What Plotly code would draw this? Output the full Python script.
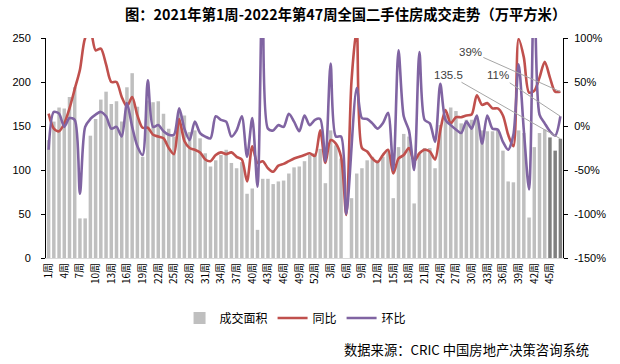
import plotly.graph_objects as go

# 成交面积（万平方米）: 2021 week 1-52, 2022 week 1-47
area = [134, 155, 171, 170, 183, 194, 45, 45, 139, 158,
        180, 189, 175, 178, 155, 194, 210, 172, 115, 179,
        177, 178, 164, 147, 138, 165, 162, 143, 145, 136,
        119, 104, 111, 117, 123, 108, 102, 109, 73, 79,
        32, 90, 90, 84, 87, 88, 96, 103, 104, 110,
        117, 119,
        124, 85, 145, 128, 113, 0, 68, 96, 102, 111,
        115, 111, 115, 123, 68, 126, 141, 138, 62, 119,
        125, 125, 102, 151, 162, 171, 167, 153, 157, 157,
        161, 145, 144, 144, 146, 122, 87, 86, 145, 142,
        46, 126, 142, 146, 137, 122, 135.5]

# 同比 (%)
yoy = [14, -3, -6, 3, 20, 42, 64, 100, 108, 86,
       88, 70, 50, 50, 33, 22, 33, 12, -2, -2,
       -10, -12, -14, -25, -32, 8, -17, -25, -27, -30,
       -38, -40, -33, -30, -32, -30, -35, -38, -63, -23,
       -42, -40, -48, -52, -45, -43, -40, -37, -35, -33,
       -31, -34,
       -5, -42, -16, -20, -35, -101, 51, 110, -25, -29,
       -37, -41, -33, -27, -54, -37, -33, -25, -40, -31,
       -27, -29, -38, -5, 18, 3, 10, 10, 12, 13,
       35, 24, 26, 20, 20, 12, -10, -23, 99, 78,
       38, 40, 55, 73, 55, 39, 39]

# 环比 (%)
mom = [-27, 16, 14, -1, 9, 7, -77, -1, 8, 13,
       16, 11, -3, -1, -12, 26, -1, -23, -33, 52,
       -1, 1, -6, -10, -10, 20, -3, -16, 5, -8,
       -12, -14, 11, 7, 5, -12, -5, 11, -35, 9,
       -69, 181, -3, -5, 1, -1, 14, 5, -6, 12,
       1, 7,
       8, -40, 71, -12, -12, -100, None, 43, 9, 8,
       3, -3, 3, 15, -50, 86, 11, -5, -50, 84,
       7, 3, -18, 48, 7, 1, -4, -8, 5, -3,
       12, -20, 12, -3, -4, -18, -27, -10, 70, -5,
       -72, 174, 13, 3, -6, -11, 11]

weeks_2021 = list(range(1, 53))
weeks_2022 = list(range(1, 48))
week_labels = [f"{w}周" for w in weeks_2021 + weeks_2022]

left_ticks = [0, 50, 100, 150, 200, 250]
right_ticks = [-150, -100, -50, 0, 50, 100]
right_ticktext = [f"{v}%" for v in right_ticks]

x = list(range(len(area)))
n_dark = 3
bar_colors = ["#BFBFBF"] * (len(area) - n_dark) + ["#808080"] * n_dark

FONT = "Liberation Sans, Noto Sans CJK SC"
CJK = "Noto Sans CJK SC"

fig = go.Figure()
fig.add_trace(go.Bar(x=x, y=area, name="成交面积", marker=dict(color=bar_colors, line=dict(width=0)),
                     yaxis="y"))
fig.add_trace(go.Scatter(x=x, y=yoy, name="同比", mode="lines", yaxis="y2",
                         line=dict(color="#C0504D", width=2.6, shape="spline", smoothing=0.8)))
fig.add_trace(go.Scatter(x=x, y=mom, name="环比", mode="lines", yaxis="y2", connectgaps=True,
                         line=dict(color="#8064A2", width=2.6, shape="spline", smoothing=0.8)))

L, R, T, B = 43, 57, 38, 106
W, H = 620, 364
pw, ph = W - L - R, H - T - B

def px_to_paper(px, py):
    return (px - L) / pw, (H - B - py) / ph

annos = []
tx, ty = px_to_paper(344, 13)
annos.append(dict(text="<b>图：2021年第1周-2022年第47周全国二手住房成交走势（万平方米）</b>",
                  xref="paper", yref="paper", x=tx, y=ty, showarrow=False,
                  font=dict(family=CJK, size=14.3, color="#000000"), xanchor="center", yanchor="middle"))
sx, sy = px_to_paper(591, 349)
annos.append(dict(text="数据来源：CRIC 中国房地产决策咨询系统", xref="paper", yref="paper",
                  x=sx, y=sy, showarrow=False, xanchor="right", yanchor="middle",
                  font=dict(family=CJK, size=13.3, color="#000000")))

# value labels with leader lines
last = len(area) - 1
lab_style = dict(showarrow=True, arrowhead=0, arrowwidth=1, arrowcolor="#A6A6A6",
                 font=dict(family=FONT, size=11.5, color="#404040"), standoff=0)
annos.append(dict(text=f"{yoy[-1]}%", x=last, y=yoy[-1], xref="x", yref="y2",
                  ax=-90, ay=-40, **lab_style))
annos.append(dict(text=f"{mom[-1]}%", x=last, y=mom[-1], xref="x", yref="y2",
                  ax=-62, ay=-41, **lab_style))
annos.append(dict(text=f"{area[-1]}", x=last, y=area[-1], xref="x", yref="y",
                  ax=-112, ay=-64, **lab_style))

lx, ly = px_to_paper(294, 318)

fig.update_layout(
    width=W, height=H,
    margin=dict(l=L, r=R, t=T, b=B),
    paper_bgcolor="white", plot_bgcolor="white",
    bargap=0.33,
    showlegend=True,
    legend=dict(orientation="h", x=lx, y=ly, xanchor="center", yanchor="middle",
                font=dict(family=CJK, size=12, color="#000000"), itemwidth=30,
                bgcolor="rgba(0,0,0,0)"),
    xaxis=dict(range=[-0.5, len(area) - 0.5], tickmode="array",
               tickvals=x[::3], ticktext=week_labels[::3], tickangle=-90,
               tickfont=dict(family=CJK, size=10, color="#000000"),
               showline=True, linecolor="#D9D9D9", linewidth=1, ticks="", showgrid=False,
               zeroline=False),
    yaxis=dict(range=[0, 250], tickmode="array", tickvals=left_ticks, showgrid=False,
               showline=True, linecolor="#000000", linewidth=1, ticks="outside", ticklen=4,
               tickcolor="#000000", tickfont=dict(family=FONT, size=11, color="#000000"),
               ticklabelstandoff=8, zeroline=False),
    yaxis2=dict(range=[-150, 100], tickmode="array", tickvals=right_ticks, ticktext=right_ticktext,
                overlaying="y", side="right", showgrid=False, showline=True,
                linecolor="#000000", linewidth=1, ticks="outside", ticklen=4, tickcolor="#000000",
                tickfont=dict(family=FONT, size=11, color="#000000"), ticklabelstandoff=4,
                zeroline=False),
    annotations=annos,
)

fig.write_html("out.html", config={"displayModeBar": False},
               post_script="document.body.style.margin='0';document.body.style.padding='0';")
